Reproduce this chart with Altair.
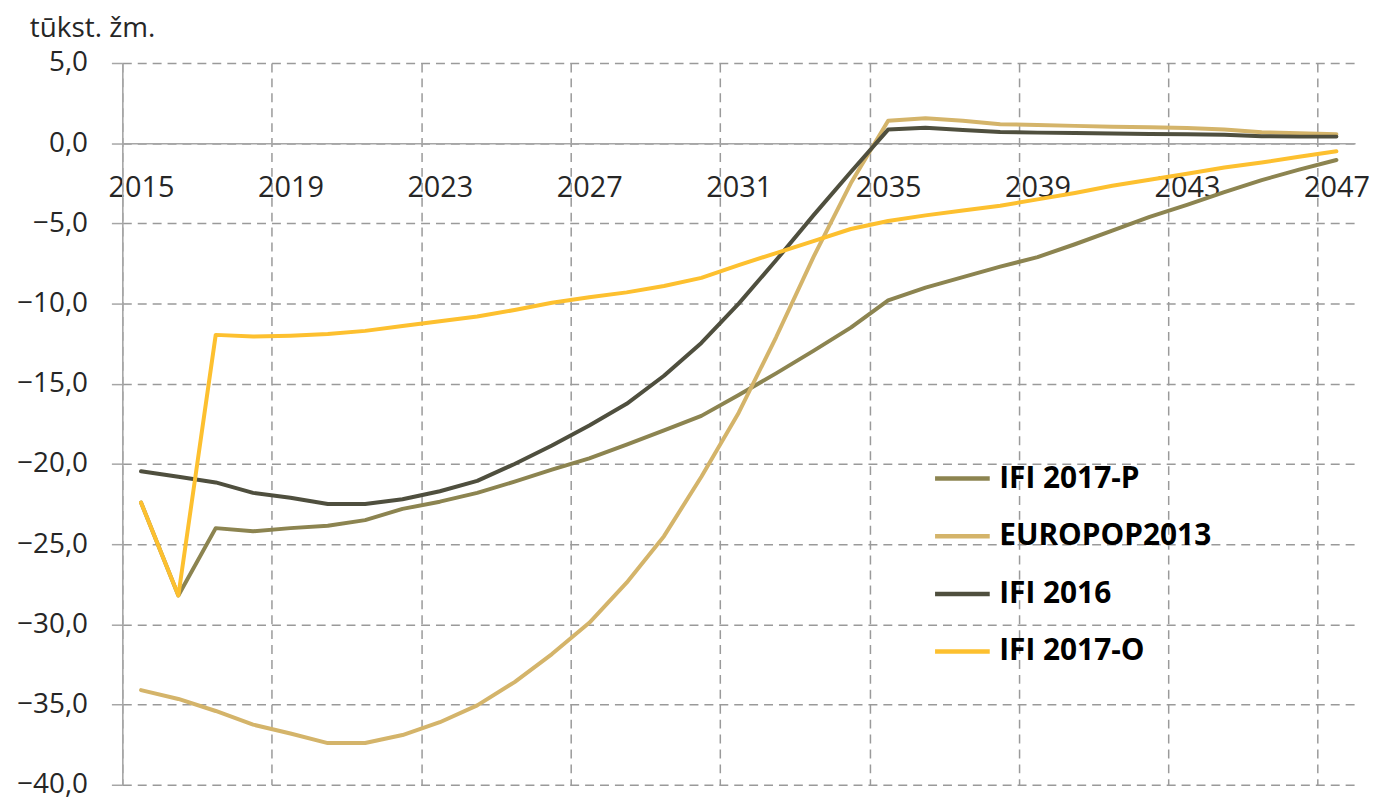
import altair as alt
import pandas as pd

# ---------------- data ----------------
years = list(range(2015, 2048))

ifi_2017_p = [-22.4, -28.2, -24.0, -24.2, -24.0, -23.85, -23.5, -22.8, -22.35, -21.8,
              -21.1, -20.35, -19.65, -18.8, -17.9, -17.0, -15.7, -14.35, -12.95, -11.5,
              -9.8, -9.0, -8.35, -7.7, -7.1, -6.3, -5.45, -4.6, -3.85, -3.05,
              -2.3, -1.65, -1.05]

europop_2013 = [-34.1, -34.65, -35.4, -36.25, -36.8, -37.4, -37.4, -36.9, -36.1, -35.05,
                -33.6, -31.85, -29.9, -27.4, -24.5, -20.8, -16.8, -12.1, -7.1, -2.5,
                1.4, 1.55, 1.4, 1.18, 1.14, 1.08, 1.03, 0.99, 0.95, 0.85,
                0.68, 0.62, 0.56]

ifi_2016 = [-20.45, -20.8, -21.15, -21.8, -22.1, -22.5, -22.5, -22.2, -21.7, -21.05,
            -20.0, -18.85, -17.6, -16.25, -14.5, -12.45, -10.0, -7.3, -4.5, -1.8,
            0.85, 0.97, 0.82, 0.7, 0.66, 0.64, 0.6, 0.58, 0.56, 0.52,
            0.44, 0.41, 0.41]

ifi_2017_o = [-22.4, -28.2, -11.95, -12.05, -12.0, -11.9, -11.7, -11.4, -11.1, -10.8,
              -10.4, -9.95, -9.6, -9.3, -8.9, -8.4, -7.6, -6.85, -6.1, -5.35,
              -4.85, -4.5, -4.2, -3.9, -3.5, -3.1, -2.65, -2.28, -1.9, -1.52,
              -1.2, -0.85, -0.5]

series_names = ["IFI 2017-P", "EUROPOP2013", "IFI 2016", "IFI 2017-O"]
series_values = [ifi_2017_p, europop_2013, ifi_2016, ifi_2017_o]
series_colors = ["#8C8450", "#D4B46A", "#4F4F3E", "#FDC02F"]

y_ticks = [-40, -35, -30, -25, -20, -15, -10, -5, 0, 5]
x_label_years = [2015, 2019, 2023, 2027, 2031, 2035, 2039, 2043, 2047]

unit_title = "tūkst. žm."

rows = []
for name, vals in zip(series_names, series_values):
    for yr, v in zip(years, vals):
        rows.append({"year": yr, "series": name, "value": v})
df = pd.DataFrame(rows)

# ---------------- layout ----------------
W, H = 1240, 726
FONT = "Open Sans"
GRID = "#9A9A9A"
AXISLINE = "#A6A6A6"
TEXT = "#262626"

x_scale = alt.Scale(domain=[years[0] - 0.5, years[-1] + 0.5], nice=False, zero=False)
y_scale = alt.Scale(domain=[y_ticks[0], y_ticks[-1]], nice=False, zero=False)

grid_positions = [y - 0.5 for y in x_label_years]
zero_offset = -H * (0 - y_ticks[0]) / (y_ticks[-1] - y_ticks[0])

x_axis = alt.Axis(
    orient="bottom",
    offset=zero_offset,
    values=grid_positions,
    labelExpr="format(datum.value + 0.5, 'd')",
    labelOffset=W / len(years) / 2,
    labelPadding=31,
    labelFont=FONT,
    labelFontSize=29,
    labelColor=TEXT,
    labelBound=False,
    labelFlush=False,
    labelOverlap=False,
    ticks=False,
    domain=True,
    domainColor=AXISLINE,
    domainWidth=1.6,
    grid=True,
    gridColor=GRID,
    gridDash=[9, 6],
    gridWidth=1.5,
    title="",
)

y_axis = alt.Axis(
    values=y_ticks,
    labelExpr="replace(format(datum.value, '.1f'), '.', ',')",
    labelFont=FONT,
    labelFontSize=28,
    labelColor=TEXT,
    labelPadding=24,
    labelOverlap=False,
    labelBound=False,
    labelFlush=False,
    ticks=True,
    tickSize=11,
    tickColor=AXISLINE,
    tickWidth=1.5,
    domain=True,
    domainColor=AXISLINE,
    domainWidth=1.6,
    grid=True,
    gridColor=GRID,
    gridDash=[9, 6],
    gridWidth=1.5,
    title="",
)

color = alt.Color(
    "series:N",
    scale=alt.Scale(domain=series_names, range=series_colors),
    legend=alt.Legend(
        title=None,
        orient="none",
        legendX=815,
        legendY=388,
        padding=0,
        symbolType="stroke",
        symbolSize=3025,
        symbolStrokeWidth=4.5,
        rowPadding=13,
        labelOffset=7,
        labelLimit=500,
        labelFont=FONT,
        labelFontSize=30,
        labelFontWeight="bold",
        labelColor="#000000",
    ),
)

base = alt.Chart(df).mark_line(strokeWidth=4, strokeCap="round", strokeJoin="round").encode(
    x=alt.X("year:Q", scale=x_scale, axis=x_axis),
    y=alt.Y("value:Q", scale=y_scale, axis=y_axis),
    color=color,
)

layers = [base.transform_filter(alt.datum.series == s) for s in series_names]

chart = alt.layer(*layers).properties(
    width=W,
    height=H,
    autosize=alt.AutoSizeParams(type="none"),
    padding={"left": 115, "top": 53, "right": 16, "bottom": 14},
    title=alt.TitleParams(
        unit_title,
        anchor="start",
        frame="group",
        dx=-93,
        offset=6,
        font=FONT,
        fontSize=28,
        fontWeight="normal",
        color=TEXT,
    ),
).configure_view(strokeOpacity=0)

chart.save("out.html", embed_options={"renderer": "svg", "actions": False})
